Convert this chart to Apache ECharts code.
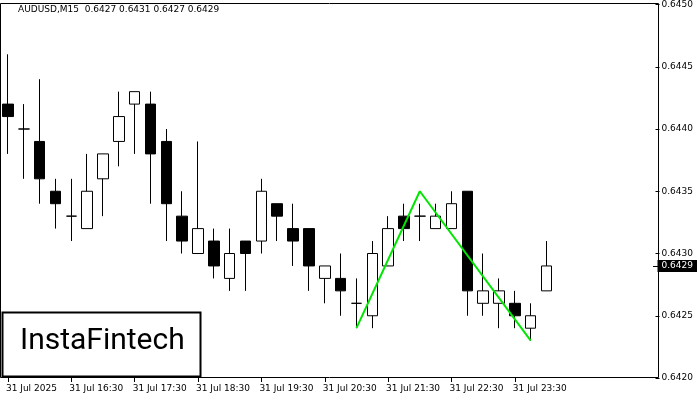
<!DOCTYPE html>
<html><head><meta charset="utf-8">
<script src="https://cdn.jsdelivr.net/npm/echarts@6/dist/echarts.min.js"></script>
<style>html,body{margin:0;padding:0;background:#fff}#c{width:700px;height:400px}</style>
</head><body><div id="c"></div>
<script>
// OHLC per 15-min candle
const opens  = [0.6442,0.6440,0.6439,0.6435,0.6433,0.6432,0.6436,0.6439,0.6442,0.6442,0.6439,0.6433,0.6430,0.6431,0.6428,0.6431,0.6431,0.6434,0.6432,0.6432,0.6428,0.6428,0.6426,0.6425,0.6429,0.6433,0.6433,0.6432,0.6432,0.6435,0.6426,0.6426,0.6426,0.6424,0.6427];
const closes = [0.6441,0.6440,0.6436,0.6434,0.6433,0.6435,0.6438,0.6441,0.6443,0.6438,0.6434,0.6431,0.6432,0.6429,0.6430,0.6430,0.6435,0.6433,0.6431,0.6429,0.6429,0.6427,0.6426,0.6430,0.6432,0.6432,0.6433,0.6433,0.6434,0.6427,0.6427,0.6427,0.6425,0.6425,0.6429];
const highs  = [0.6446,0.6442,0.6444,0.6436,0.6436,0.6438,0.6438,0.6443,0.6443,0.6443,0.6440,0.6435,0.6439,0.6432,0.6432,0.6431,0.6436,0.6434,0.6434,0.6432,0.6429,0.6430,0.6428,0.6431,0.6433,0.6434,0.6434,0.6434,0.6435,0.6435,0.6430,0.6428,0.6427,0.6426,0.6431];
const lows   = [0.6438,0.6436,0.6434,0.6432,0.6431,0.6432,0.6433,0.6437,0.6438,0.6434,0.6431,0.6430,0.6430,0.6428,0.6427,0.6427,0.6430,0.6431,0.6429,0.6427,0.6426,0.6425,0.6424,0.6424,0.6429,0.6431,0.6431,0.6432,0.6432,0.6425,0.6425,0.6424,0.6424,0.6423,0.6427];
const timeLabels = {0:'31 Jul 2025',4:'31 Jul 16:30',8:'31 Jul 17:30',12:'31 Jul 18:30',16:'31 Jul 19:30',20:'31 Jul 20:30',24:'31 Jul 21:30',28:'31 Jul 22:30',32:'31 Jul 23:30'};
const patternIdx = [22,26,33];
const patternVal = [0.6424,0.6435,0.6423];
const currentPrice = 0.6429;

const N = 41;
const cats = Array.from({length:N},(_,i)=>String(i));
const kData = cats.map((_,i)=> i<opens.length ? [opens[i],closes[i],lows[i],highs[i]] : '-');
const pat = cats.map(()=>null);
patternIdx.forEach((k,j)=>pat[k]=patternVal[j]);

const chart = echarts.init(document.getElementById('c'));
chart.setOption({
  animation:false,
  textStyle:{fontFamily:'DejaVu Sans'},
  grid:{left:-6,right:47,top:3,bottom:22},
  xAxis:{type:'category',data:cats,boundaryGap:true,
    axisLine:{show:false},
    axisTick:{show:true,interval:(i)=>timeLabels[i]!==undefined,alignWithLabel:true,length:4,lineStyle:{color:'#000'}},
    axisLabel:{interval:0,formatter:(v,i)=>timeLabels[i]||'',fontSize:9,color:'#000',align:'left',margin:6,padding:[0,0,0,-2]},
    splitLine:{show:false}},
  yAxis:[
    {type:'value',position:'right',offset:6,min:0.6420,max:0.6450,interval:0.0005,
    axisLine:{show:false},axisTick:{show:true,length:4,lineStyle:{color:'#000'}},
    axisLabel:{formatter:v=>v.toFixed(4),fontSize:9,color:'#000',margin:6},
    splitLine:{show:false}},
    {type:'value',position:'right',offset:6,min:0.6420,max:0.6450,
    axisLine:{show:false},axisTick:{show:false},splitLine:{show:false},
    axisLabel:{customValues:[currentPrice],formatter:v=>v.toFixed(4),fontSize:9,color:'#fff',backgroundColor:'#000',padding:[2,4,1,4],margin:2}}
  ],
  series:[
    {type:'candlestick',data:kData,barWidth:11,
     itemStyle:{color:'#fff',color0:'#000',borderColor:'#000',borderColor0:'#000',borderWidth:1},
     markLine:{silent:true,symbol:'none',lineStyle:{color:'#000',width:1,type:'solid'},label:{show:false},
       data:[{yAxis:currentPrice}]}},
    {type:'line',data:pat,connectNulls:true,symbol:'none',lineStyle:{color:'#00e600',width:2},z:5}
  ],
  graphic:[
    {type:'rect',shape:{x:0.5,y:3.5,width:658,height:374},style:{fill:'none',stroke:'#000',lineWidth:1},silent:true},
    {type:'line',shape:{x1:653,y1:266.5,x2:659,y2:266.5},style:{stroke:'#000',lineWidth:1}},
    {type:'text',left:18,top:5,style:{text:'AUDUSD,M15  0.6427 0.6431 0.6427 0.6429',font:'9px DejaVu Sans',fill:'#000'}},
    {type:'rect',shape:{x:2.5,y:312.5,width:198,height:64},style:{fill:'#fff',stroke:'#000',lineWidth:2},z:10},
    {type:'text',left:20,top:326,z:11,style:{text:'InstaFintech',font:'30px Roboto, sans-serif',fill:'#000'}}
  ]
});
</script></body></html>
